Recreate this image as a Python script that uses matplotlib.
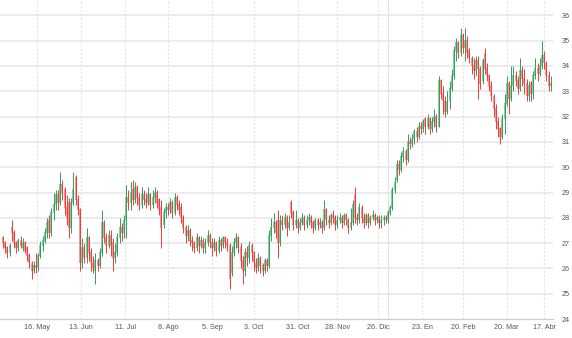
import matplotlib
matplotlib.use("Agg")
import matplotlib.pyplot as plt
import numpy as np

# daily OHLC, one entry per trading session
opens = [
    27.2, 27.0, 26.8, 26.6, 27.6, 27.4, 27.0, 26.8, 27.1, 26.8,
    27.0, 26.8, 26.5, 26.2, 25.9, 26.1, 26.0, 26.5, 26.9, 27.1,
    27.4, 27.9, 27.4, 28.2, 28.5, 28.9, 28.6, 29.3, 29.1, 28.4,
    28.6, 27.6, 28.6, 29.6, 28.7, 28.3, 26.2, 26.8, 26.4, 27.2,
    26.6, 26.2, 25.9, 26.3, 26.1, 26.6, 27.8, 27.2, 26.9, 27.3,
    27.0, 26.4, 26.6, 27.2, 27.6, 27.4, 27.9, 28.8, 28.6, 29.1,
    28.7, 29.2, 28.8, 28.5, 28.9, 28.7, 28.6, 28.9, 28.5, 28.8,
    29.0, 28.7, 28.4, 27.7, 28.2, 28.4, 28.3, 28.6, 28.2, 28.8,
    28.5, 28.4, 28.0, 27.6, 27.3, 27.5, 27.1, 27.0, 26.8, 27.2,
    26.9, 27.1, 26.8, 27.0, 27.3, 27.0, 26.8, 27.0, 26.7, 27.1,
    26.9, 27.2, 27.0, 26.9, 25.8, 26.6, 27.0, 27.2, 26.8, 26.3,
    25.9, 26.6, 26.4, 26.9, 26.6, 26.2, 26.0, 26.4, 26.1, 25.9,
    26.3, 26.1, 27.3, 27.6, 27.8, 27.9, 27.0, 27.9, 27.7, 28.0,
    27.6, 28.6, 28.2, 27.7, 27.9, 27.6, 27.8, 28.0, 27.7, 27.9,
    28.0, 27.8, 27.6, 27.9, 27.7, 27.8, 27.6, 28.3, 27.9, 27.8,
    28.1, 28.0, 27.7, 27.9, 28.0, 27.8, 28.1, 27.9, 27.6, 27.8,
    28.9, 28.0, 27.9, 28.4, 28.0, 27.8, 28.1, 27.8, 28.0, 28.1,
    27.9, 28.0, 27.8, 27.9, 28.0, 27.9, 28.2, 28.4, 29.1, 29.5,
    30.1, 29.9, 30.4, 30.6, 30.3, 31.0, 30.9, 31.1, 31.4, 31.2,
    31.6, 31.5, 31.9, 31.6, 31.9, 31.5, 31.8, 32.0, 31.6, 33.4,
    32.9, 32.6, 32.2, 32.6, 33.1, 33.6, 34.6, 34.9, 34.5, 35.2,
    34.7, 35.0, 34.6, 34.3, 34.0, 33.8, 34.2, 33.9, 33.4, 34.5,
    33.9, 33.6, 33.2, 32.8, 32.3, 31.8, 31.5, 31.2, 31.9, 32.5,
    33.3, 32.7, 33.2, 33.6, 33.4, 33.1, 33.8, 33.5, 33.3, 32.8,
    33.3, 32.9, 33.6, 33.9, 33.7, 34.0, 34.4, 34.1, 33.6, 33.2,
]
highs = [
    27.3, 27.1, 26.9, 27.0, 27.9, 27.5, 27.1, 27.2, 27.3, 27.2,
    27.1, 26.9, 26.6, 26.3, 26.3, 26.6, 26.6, 27.1, 27.3, 27.6,
    28.0, 28.1, 28.4, 29.0, 29.1, 29.1, 29.8, 29.5, 29.2, 28.9,
    28.8, 28.8, 29.8, 29.7, 28.9, 28.4, 27.2, 27.0, 27.6, 27.3,
    26.8, 26.5, 26.6, 26.4, 26.8, 28.3, 27.9, 27.4, 27.5, 27.5,
    27.2, 27.0, 27.4, 28.0, 27.8, 28.1, 29.3, 29.1, 29.4, 29.5,
    29.4, 29.3, 29.0, 29.2, 29.1, 29.0, 29.2, 29.0, 29.1, 29.2,
    29.1, 28.8, 28.7, 28.4, 28.6, 28.6, 28.8, 28.7, 29.0, 28.9,
    28.7, 28.6, 28.1, 27.7, 27.7, 27.6, 27.3, 27.1, 27.4, 27.3,
    27.3, 27.2, 27.2, 27.5, 27.4, 27.2, 27.2, 27.1, 27.3, 27.2,
    27.3, 27.3, 27.2, 27.0, 26.9, 27.2, 27.4, 27.3, 27.0, 26.5,
    26.8, 26.9, 27.1, 27.0, 26.7, 26.4, 26.6, 26.5, 26.2, 26.4,
    26.4, 27.5, 28.0, 28.2, 27.9, 28.3, 28.1, 28.1, 28.2, 28.1,
    28.1, 28.7, 28.3, 28.3, 28.0, 28.0, 28.2, 28.1, 28.1, 28.2,
    28.1, 27.9, 28.0, 28.0, 28.0, 27.9, 28.7, 28.4, 28.1, 28.2,
    28.3, 28.1, 28.1, 28.2, 28.1, 28.2, 28.2, 28.0, 28.4, 28.7,
    29.2, 28.2, 28.6, 28.5, 28.2, 28.2, 28.2, 28.1, 28.3, 28.2,
    28.1, 28.1, 28.1, 28.1, 28.1, 28.3, 28.5, 29.2, 29.6, 30.3,
    30.3, 30.6, 30.8, 30.7, 31.3, 31.2, 31.3, 31.5, 31.6, 31.8,
    31.8, 31.9, 32.0, 32.1, 32.0, 32.0, 32.3, 32.1, 33.6, 33.5,
    33.2, 32.8, 33.0, 33.4, 33.9, 34.8, 35.1, 35.0, 35.5, 35.3,
    35.5, 35.2, 34.7, 34.4, 34.3, 34.4, 34.4, 34.0, 34.3, 34.7,
    34.1, 33.7, 33.4, 32.9, 32.5, 32.0, 31.6, 32.1, 32.9, 33.6,
    33.4, 34.0, 34.0, 33.8, 33.6, 34.3, 34.0, 33.9, 33.5, 33.4,
    33.4, 33.8, 34.3, 34.1, 34.3, 35.0, 34.6, 34.2, 33.8, 33.6,
]
lows = [
    26.8, 26.6, 26.4, 26.5, 27.1, 26.8, 26.6, 26.7, 26.8, 26.7,
    26.6, 26.3, 26.0, 25.6, 25.8, 25.8, 25.9, 26.4, 26.7, 27.0,
    27.2, 27.2, 27.3, 27.9, 28.3, 28.3, 28.5, 28.7, 28.1, 27.7,
    27.2, 27.4, 28.5, 28.5, 28.1, 25.9, 26.0, 26.2, 26.2, 26.3,
    25.9, 25.8, 25.4, 25.9, 26.0, 26.5, 27.0, 26.6, 26.8, 26.5,
    25.9, 26.2, 26.5, 27.0, 27.1, 27.2, 27.2, 28.3, 28.3, 28.5,
    28.6, 28.5, 28.3, 28.4, 28.5, 28.4, 28.5, 28.3, 28.4, 28.6,
    28.4, 28.1, 26.8, 27.6, 28.0, 28.1, 28.2, 28.0, 28.1, 28.3,
    28.1, 27.8, 27.4, 27.0, 27.1, 26.9, 26.7, 26.6, 26.7, 26.6,
    26.8, 26.6, 26.6, 26.9, 26.8, 26.5, 26.7, 26.5, 26.6, 26.7,
    26.8, 26.8, 26.7, 25.2, 25.7, 26.5, 26.8, 26.6, 26.0, 25.4,
    25.7, 26.1, 26.2, 26.3, 25.9, 25.8, 25.9, 25.8, 25.7, 25.8,
    25.9, 26.0, 27.1, 27.4, 27.2, 26.4, 26.9, 27.5, 27.6, 27.3,
    27.5, 28.0, 27.5, 27.6, 27.4, 27.5, 27.7, 27.5, 27.6, 27.7,
    27.6, 27.4, 27.5, 27.5, 27.6, 27.4, 27.5, 27.7, 27.6, 27.7,
    27.8, 27.5, 27.6, 27.8, 27.6, 27.7, 27.7, 27.4, 27.5, 27.7,
    27.8, 27.7, 27.8, 27.8, 27.6, 27.7, 27.6, 27.7, 27.9, 27.7,
    27.8, 27.6, 27.6, 27.7, 27.8, 27.8, 28.1, 28.3, 29.0, 29.4,
    29.7, 29.8, 30.2, 30.1, 30.2, 30.7, 30.8, 30.9, 31.0, 31.1,
    31.3, 31.4, 31.3, 31.5, 31.3, 31.4, 31.6, 31.4, 31.6, 32.7,
    32.1, 32.0, 32.1, 32.3, 33.0, 33.5, 34.2, 34.3, 34.4, 34.5,
    34.2, 34.3, 34.1, 33.7, 33.5, 33.6, 32.7, 33.1, 33.3, 33.7,
    33.4, 33.0, 32.6, 32.0, 31.5, 31.2, 30.9, 31.1, 31.3, 32.4,
    32.1, 32.6, 33.0, 33.2, 32.9, 33.0, 33.2, 32.9, 32.6, 32.6,
    32.6, 32.7, 33.5, 33.4, 33.6, 33.9, 33.9, 33.4, 33.0, 33.0,
]
closes = [
    27.0, 26.8, 26.6, 26.9, 27.4, 27.0, 26.8, 27.1, 26.9, 27.0,
    26.7, 26.5, 26.2, 25.9, 26.1, 26.0, 26.5, 26.9, 27.1, 27.4,
    27.8, 27.4, 28.2, 28.5, 28.9, 28.6, 29.3, 29.0, 28.4, 28.0,
    27.6, 28.6, 29.1, 28.7, 28.3, 26.2, 26.8, 26.4, 27.2, 26.6,
    26.2, 26.0, 26.3, 26.1, 26.6, 27.8, 27.2, 26.9, 27.3, 26.9,
    26.4, 26.6, 27.2, 27.6, 27.4, 27.9, 28.8, 28.6, 29.0, 28.7,
    29.2, 28.8, 28.5, 28.9, 28.7, 28.6, 28.9, 28.5, 28.8, 29.0,
    28.6, 28.3, 27.6, 28.2, 28.4, 28.3, 28.6, 28.2, 28.8, 28.5,
    28.3, 28.0, 27.6, 27.3, 27.5, 27.1, 27.0, 26.8, 27.2, 26.9,
    27.1, 26.8, 27.0, 27.3, 27.0, 26.8, 27.0, 26.7, 27.1, 26.9,
    27.2, 27.0, 26.9, 25.6, 26.6, 27.0, 27.2, 26.8, 26.3, 25.9,
    26.6, 26.4, 26.9, 26.6, 26.2, 26.0, 26.4, 26.1, 25.9, 26.3,
    26.1, 27.3, 27.6, 27.8, 27.4, 27.0, 27.9, 27.7, 28.0, 27.6,
    27.8, 28.2, 27.7, 27.9, 27.6, 27.8, 28.0, 27.7, 27.9, 28.0,
    27.8, 27.6, 27.9, 27.7, 27.8, 27.6, 28.3, 27.9, 27.8, 28.1,
    28.0, 27.7, 27.9, 28.0, 27.8, 28.1, 27.9, 27.6, 27.8, 28.5,
    28.0, 27.9, 28.4, 28.0, 27.8, 28.1, 27.8, 28.0, 28.1, 27.9,
    28.0, 27.8, 27.9, 28.0, 27.9, 28.2, 28.4, 29.1, 29.4, 30.1,
    29.9, 30.4, 30.6, 30.3, 31.0, 30.9, 31.1, 31.4, 31.2, 31.6,
    31.5, 31.8, 31.6, 31.9, 31.5, 31.8, 32.0, 31.6, 33.4, 32.9,
    32.6, 32.2, 32.6, 33.1, 33.6, 34.6, 34.9, 34.5, 35.2, 34.7,
    35.0, 34.5, 34.3, 34.0, 33.8, 34.2, 33.9, 33.3, 34.2, 33.9,
    33.6, 33.2, 32.8, 32.3, 31.8, 31.5, 31.2, 31.9, 32.5, 33.3,
    32.7, 33.2, 33.6, 33.4, 33.1, 33.8, 33.5, 33.3, 32.8, 33.2,
    32.9, 33.6, 33.9, 33.7, 34.0, 34.4, 34.1, 33.6, 33.2, 33.3,
]

# session index of each labelled month tick, plus the new-year separator
tick_pos = [15.5, 35.5, 55.5, 75, 95, 114, 134, 152, 170.5, 190.5, 209, 229, 246]
tick_labels = ["16. May", "13. Jun", "11. Jul", "8. Ago", "5. Sep", "3. Oct",
               "31. Oct", "28. Nov", "26. Dic", "23. En", "20. Feb", "20. Mar", "17. Abr"]
year_break = 175
y_ticks = list(range(24, 37))

up_body, up_wick = "#8dcba1", "#2f9e5e"
dn_body, dn_wick = "#f69999", "#ee3b3b"
font = ["Liberation Sans Narrow", "Liberation Sans", "DejaVu Sans"]

fig = plt.figure(figsize=(5.72, 3.38), dpi=100)
ax = fig.add_axes([0.0, 19 / 338, 553 / 572, 319 / 338])

o = np.array(opens); h = np.array(highs); l = np.array(lows); c = np.array(closes)
x = np.arange(len(c))
up = c >= o

for mask, body, wick in [(up, up_body, up_wick), (~up, dn_body, dn_wick)]:
    ax.bar(x[mask], np.abs(c - o)[mask] + 0.03, bottom=np.minimum(o, c)[mask],
           width=0.9, color=body, linewidth=0, zorder=3)
    ax.vlines(x[mask], l[mask], h[mask], color=wick, linewidth=0.7, zorder=4)

for yv in y_ticks[1:]:
    ax.axhline(yv, color="#e6e6e6", linewidth=1.1, zorder=1)
for xv in tick_pos:
    ax.axvline(xv, color="#e4e4e4", linewidth=0.8, linestyle=(0, (2, 1.5)), zorder=1)
ax.axvline(year_break, color="#e2e2e2", linewidth=0.8, zorder=1)

ax.set_xlim(-1.4, 250)
ax.set_ylim(24, 24 + 319 / 25.3)
ax.set_xticks(tick_pos)
ax.set_xticklabels(tick_labels, family=font, fontsize=5.2, color="#555555")
ax.set_yticks(y_ticks)
ax.set_yticklabels([str(v) for v in y_ticks], family=font, fontsize=5.2, color="#555555")
ax.yaxis.tick_right()
ax.tick_params(axis="x", length=0, pad=3.5)
ax.tick_params(axis="y", length=0, pad=6)

for side in ["top", "left", "right"]:
    ax.spines[side].set_visible(False)
ax.spines["bottom"].set_color("#cccccc")
ax.spines["bottom"].set_linewidth(0.9)

fig.savefig("out.png", dpi=100)
